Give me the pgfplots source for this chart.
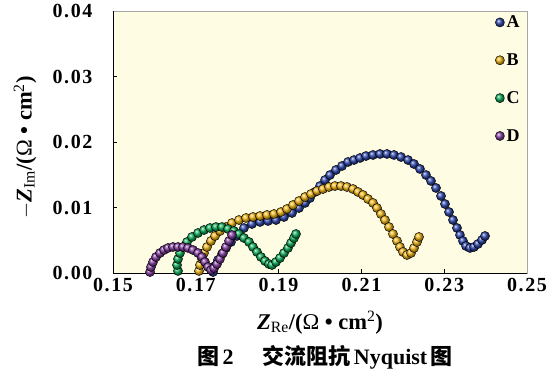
\documentclass[border=0pt]{standalone}
\usepackage{fontspec}
\setmainfont{Liberation Serif}
\newfontfamily\tickfont{Liberation Serif}[LetterSpace=8]
\newfontfamily\cjk{Noto Sans CJK SC}
\usepackage{pgfplots}
\pgfplotsset{compat=1.18}
\definecolor{cA}{RGB}{45,70,170}
\definecolor{cB}{RGB}{240,180,20}
\definecolor{cC}{RGB}{10,170,85}
\definecolor{cD}{RGB}{130,60,160}
\definecolor{bg}{RGB}{255,252,228}
\begin{document}
\begin{tikzpicture}
\begin{axis}[
  scale only axis, width=414pt, height=262pt,
  xmin=0.15, xmax=0.25, ymin=0, ymax=0.04,
  xtick={0.15,0.17,0.19,0.21,0.23,0.25},
  ytick={0,0.01,0.02,0.03,0.04},
  xtick pos=bottom, ytick pos=left,
  tick align=inside, major tick length=4pt,
  tick style={black, line width=0.6pt},
  /pgf/number format/assume math mode=true,
  /pgf/number format/fixed,
  /pgf/number format/fixed zerofill,
  /pgf/number format/precision=2,
  scaled ticks=false,
  ticklabel style={font=\tickfont\bfseries\fontsize{20}{24}\selectfont},
  yticklabel style={xshift=-17pt},
  xticklabel style={yshift=-2pt},
  axis line style={draw=gray!70, line width=0.5pt},
  axis background/.style={fill=bg},
  clip=false,
  xlabel={\textbf{\textit{Z}}\textsubscript{Re}\textbf{/(}Ω\hspace{0.25em}\textbf{•}\hspace{0.25em}\textbf{cm}\textsuperscript{2}\textbf{)}},
  ylabel={$-$\textbf{\textit{Z}}\textsubscript{Im}\textbf{/(}Ω\hspace{0.25em}\textbf{•}\hspace{0.25em}\textbf{cm}\textsuperscript{2}\textbf{)}},
  label style={font=\fontsize{22.5}{24}\selectfont},
  xlabel style={at={(axis description cs:0.5,-0.19)}, anchor=center},
  ylabel style={at={(axis description cs:-0.2126,0.48)}, anchor=center},
  legend style={draw=none, fill=none, at={(0.995,0.998)}, anchor=north east,
    font=\bfseries\fontsize{18}{20}\selectfont, row sep=20.5pt,
    legend cell align=left},
]
\addplot[only marks, mark=ball, mark size=4.6pt, mark options={ball color=cA}] coordinates {
(0.17415,0.00015)(0.17464,0.00107)(0.17536,0.00198)(0.17633,0.00290)(0.17729,0.00382)
(0.17850,0.00473)(0.17995,0.00565)(0.18164,0.00687)(0.18357,0.00748)(0.18551,0.00779)
(0.18744,0.00794)(0.18937,0.00809)(0.19130,0.00855)(0.19324,0.00916)(0.19493,0.00992)
(0.19638,0.01069)(0.19758,0.01145)(0.19879,0.01237)(0.20000,0.01328)(0.20121,0.01420)
(0.20242,0.01496)(0.20386,0.01573)(0.20531,0.01634)(0.20676,0.01695)(0.20821,0.01725)
(0.20966,0.01756)(0.21111,0.01786)(0.21280,0.01802)(0.21449,0.01817)(0.21618,0.01817)
(0.21787,0.01802)(0.21957,0.01771)(0.22126,0.01725)(0.22271,0.01664)(0.22415,0.01588)
(0.22560,0.01496)(0.22681,0.01405)(0.22802,0.01298)(0.22923,0.01176)(0.23019,0.01053)
(0.23116,0.00931)(0.23213,0.00809)(0.23309,0.00687)(0.23382,0.00580)(0.23454,0.00489)
(0.23527,0.00412)(0.23623,0.00382)(0.23720,0.00397)(0.23816,0.00443)(0.23913,0.00504)
(0.23986,0.00565)
};
\addlegendentry{A}
\addplot[only marks, mark=ball, mark size=4.6pt, mark options={ball color=cB}] coordinates {
(0.17077,0.00031)(0.17101,0.00122)(0.17150,0.00214)(0.17198,0.00305)(0.17271,0.00397)
(0.17367,0.00489)(0.17464,0.00565)(0.17585,0.00641)(0.17729,0.00702)(0.17874,0.00763)
(0.18043,0.00809)(0.18213,0.00840)(0.18382,0.00855)(0.18551,0.00870)(0.18720,0.00886)
(0.18889,0.00901)(0.19058,0.00931)(0.19203,0.00977)(0.19348,0.01038)(0.19493,0.01099)
(0.19638,0.01160)(0.19783,0.01206)(0.19928,0.01252)(0.20072,0.01282)(0.20217,0.01313)
(0.20362,0.01328)(0.20507,0.01328)(0.20652,0.01313)(0.20797,0.01282)(0.20918,0.01237)
(0.21039,0.01191)(0.21159,0.01130)(0.21280,0.01069)(0.21377,0.00992)(0.21473,0.00901)
(0.21570,0.00809)(0.21667,0.00702)(0.21763,0.00595)(0.21860,0.00489)(0.21932,0.00397)
(0.22005,0.00321)(0.22101,0.00275)(0.22198,0.00305)(0.22271,0.00382)(0.22343,0.00473)
(0.22391,0.00550)
};
\addlegendentry{B}
\addplot[only marks, mark=ball, mark size=4.6pt, mark options={ball color=cC}] coordinates {
(0.16570,0.00031)(0.16546,0.00122)(0.16570,0.00214)(0.16618,0.00305)(0.16691,0.00397)
(0.16787,0.00473)(0.16908,0.00550)(0.17053,0.00611)(0.17198,0.00656)(0.17343,0.00687)
(0.17488,0.00702)(0.17633,0.00702)(0.17778,0.00672)(0.17923,0.00641)(0.18043,0.00595)
(0.18164,0.00534)(0.18285,0.00473)(0.18382,0.00397)(0.18478,0.00321)(0.18575,0.00244)
(0.18671,0.00183)(0.18768,0.00137)(0.18841,0.00122)(0.18937,0.00168)(0.19034,0.00229)
(0.19130,0.00305)(0.19227,0.00382)(0.19300,0.00458)(0.19372,0.00534)(0.19420,0.00595)
};
\addlegendentry{C}
\addplot[only marks, mark=ball, mark size=4.6pt, mark options={ball color=cD}] coordinates {
(0.15894,0.00015)(0.15918,0.00092)(0.15966,0.00168)(0.16039,0.00244)(0.16135,0.00305)
(0.16232,0.00351)(0.16329,0.00382)(0.16449,0.00397)(0.16570,0.00397)(0.16691,0.00397)
(0.16812,0.00382)(0.16932,0.00351)(0.17053,0.00305)(0.17150,0.00244)(0.17222,0.00168)
(0.17295,0.00092)(0.17367,0.00046)(0.17440,0.00076)(0.17512,0.00137)(0.17585,0.00214)
(0.17657,0.00305)(0.17729,0.00397)(0.17802,0.00489)(0.17874,0.00580)
};
\addlegendentry{D}
\draw[black, line width=0.8pt] (rel axis cs:0,1) -- (rel axis cs:0,0) -- (rel axis cs:1,0);
\end{axis}
\node[font=\cjk\bfseries\fontsize{22}{24}\selectfont, anchor=center] at ([xshift=5pt, yshift=-84pt]current axis.south) {图\,{\rmfamily\bfseries 2}\hspace{1.3em}交流阻抗\,{\rmfamily\bfseries Nyquist}\,图};
\pgfresetboundingbox
\path ([shift={(-113pt,-102pt)}]current axis.south west) rectangle ([shift={(30pt,11pt)}]current axis.north east);
\end{tikzpicture}
\end{document}
